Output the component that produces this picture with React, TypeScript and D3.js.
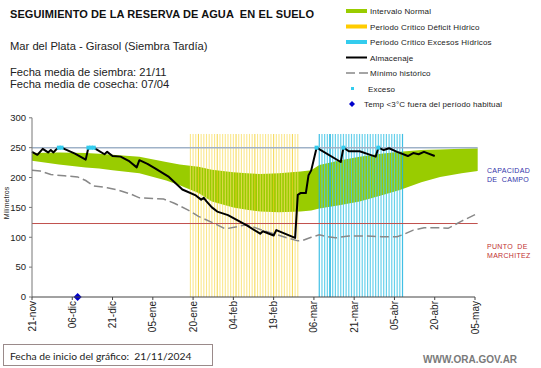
import React from "react";
import * as d3 from "d3";

// ---- data (day offset from 21-nov-2024) ----
const tickDays = [0, 15, 30, 45, 60, 75, 90, 105, 120, 135, 150, 165];
const tickLabels = ["21-nov", "06-dic", "21-dic", "05-ene", "20-ene", "04-feb", "19-feb", "06-mar", "21-mar", "05-abr", "20-abr", "05-may"];
const yTicks = [0, 50, 100, 150, 200, 250, 300];

const storageDays = [0, 2, 4, 6, 7, 8, 9, 10, 11, 12, 16, 20, 21, 23, 24, 27, 28, 30, 33, 36, 39, 40, 43, 46, 51, 56, 61, 63, 64, 65, 67, 69, 73, 80, 85, 86, 90, 91, 98, 99, 100, 102, 103, 104, 106, 115, 116, 118, 122, 126, 128, 129, 131, 133, 136, 140, 142, 144, 146, 150];
const storageValues = [243, 238, 248, 242, 246, 242, 247, 250, 250, 248, 240, 230, 250, 250, 247, 239, 243, 236, 235, 228, 217, 229, 223, 215, 201, 180, 170, 163, 166, 160, 150, 143, 137, 120, 106, 110, 103, 112, 99, 171, 174, 174, 204, 212, 250, 226, 250, 244, 244, 238, 235, 250, 246, 249, 243, 236, 241, 239, 243, 236];

const normalDays = [0, 10, 20, 25, 30, 40, 50, 55, 62, 67, 75, 80, 85, 92, 100, 104, 107, 115, 122, 130, 137, 145, 152, 160, 166];
const normalUpper = [241, 242, 241, 240, 238, 235, 226, 222, 218, 213, 209, 207, 206, 207, 210, 212, 221, 229, 235, 240, 243, 246, 247, 248, 249];
const normalLower = [228, 222, 217, 215, 212, 207, 195, 187, 174, 160, 150, 146, 143, 142, 143, 145, 148, 154, 160, 170, 179, 192, 201, 207, 211];

const minDays = [0, 3, 7, 12, 17, 20, 23, 28, 32, 37, 40, 45, 49, 53, 58, 62, 67, 72, 80, 85, 90, 95, 99, 101, 104, 107, 110, 113, 118, 125, 130, 136, 138, 142, 146, 152, 155, 160, 166];
const minValues = [212, 211, 205, 203, 201, 195, 186, 183, 179, 172, 166, 165, 164, 157, 146, 135, 125, 114, 121, 113, 106, 99, 94, 95, 100, 104, 101, 99, 102, 102, 101, 101, 104, 112, 116, 116, 115, 127, 140];

const deficitStart = 59, deficitEnd = 99;
const excessStart = 107, excessEnd = 138;
const periodTop = 273;
const excessDays = [10, 11, 21, 22, 23, 106, 116, 129];
const coldDays = [17];
const fieldCapacity = 250;
const wiltingPoint = 123;
const lastDay = 166;

const legendItems = [
  { label: "Intervalo Normal", kind: "rect", color: "#99cc00" },
  { label: "Periodo Crítico Déficit Hídrico", kind: "rect", color: "#ffcc00" },
  { label: "Periodo Crítico Excesos Hídricos", kind: "rect", color: "#33ccee" },
  { label: "Almacenaje", kind: "line", color: "#000000" },
  { label: "Mínimo histórico", kind: "dash", color: "#888888" },
  { label: "Exceso", kind: "dot", color: "#33ccee" },
  { label: "Temp <3°C fuera del período habitual", kind: "diamond", color: "#0000cc" },
];

const FONT = "'Liberation Sans', Arial, sans-serif";

export default function App() {
  const x = d3.scaleLinear().domain([0, 165]).range([32, 475]);
  const y = d3.scaleLinear().domain([0, 300]).range([297, 117.8]);

  const normal = normalDays.map((d, i) => ({ d, u: normalUpper[i], l: normalLower[i] }));
  const area = d3.area<any>().x((p) => x(p.d)).y0((p) => y(p.l)).y1((p) => y(p.u));
  const storagePath = d3.line<number>().x((d) => x(d)).y((d, i) => y(storageValues[i]))(storageDays);
  const minPath = d3.line<number>().x((d) => x(d)).y((d, i) => y(minValues[i]))(minDays);

  const deficit = d3.range(deficitStart, deficitEnd + 1);
  const excess = d3.range(excessStart, excessEnd + 1);

  return (
    <svg width={541} height={368} style={{ position: "absolute", left: 0, top: 0, background: "#fff" }} fontFamily={FONT}>
      <rect x={0} y={0} width={541} height={368} fill="#fff" />
      <text x={10} y={18} fontSize={11} fontWeight="bold" fill="#111" letterSpacing={0.1} xmlSpace="preserve">SEGUIMIENTO DE LA RESERVA DE AGUA  EN EL SUELO</text>
      <text x={10} y={50} fontSize={11.2} fill="#222">Mar del Plata - Girasol (Siembra Tardía)</text>
      <text x={10} y={76} fontSize={11.2} fill="#222">Fecha media de siembra: 21/11</text>
      <text x={10} y={88} fontSize={11.2} fill="#222">Fecha media de cosecha: 07/04</text>

      {legendItems.map((it, i) => {
        const cy = 11 + i * 15.5;
        return (
          <g key={i}>
            {it.kind === "rect" && <rect x={346} y={cy - 2} width={21} height={4} fill={it.color} />}
            {it.kind === "line" && <line x1={346} x2={367} y1={cy} y2={cy} stroke={it.color} strokeWidth={2} />}
            {it.kind === "dash" && <line x1={346} x2={368} y1={cy} y2={cy} stroke={it.color} strokeWidth={1.5} strokeDasharray="9,4" />}
            {it.kind === "dot" && <rect x={351} y={cy - 1.5} width={3} height={3} fill={it.color} />}
            {it.kind === "diamond" && <path d={`M352,${cy - 3}L355,${cy}L352,${cy + 3}L349,${cy}Z`} fill={it.color} />}
            <text x={it.kind === "dot" ? 368 : it.kind === "diamond" ? 364 : 370} y={cy + 3} fontSize={8} fill="#222" letterSpacing={0.15}>{it.label}</text>
          </g>
        );
      })}

      {/* normal interval */}
      <path d={area(normal) || ""} fill="#99cc00" />

      {/* critical periods */}
      {deficit.map((d, i) => (
        <line key={"y" + d} x1={x(d)} x2={x(d)} y1={y(0)} y2={y(periodTop)} stroke={i % 7 === 3 ? "#f2cc20" : "#f8df66"} strokeWidth={1.1} strokeOpacity={0.75} />
      ))}
      {excess.map((d, i) => (
        <line key={"c" + d} x1={x(d)} x2={x(d)} y1={y(0)} y2={y(periodTop)} stroke={i === 0 || i === 4 || d === excessEnd ? "#1fb4e0" : "#4cc8e8"} strokeWidth={i === 4 ? 1.8 : 1.2} strokeOpacity={0.85} />
      ))}

      {/* reference lines */}
      <line x1={x(0)} x2={x(lastDay)} y1={y(fieldCapacity)} y2={y(fieldCapacity)} stroke="#9fb2c8" strokeWidth={1.5} />
      <line x1={x(0)} x2={x(lastDay)} y1={y(wiltingPoint)} y2={y(wiltingPoint)} stroke="#c0504d" strokeWidth={1} />

      <path d={minPath || ""} fill="none" stroke="#888" strokeWidth={1.5} strokeDasharray="9,4" />
      <path d={storagePath || ""} fill="none" stroke="#000" strokeWidth={2} strokeLinejoin="round" />

      {excessDays.map((d) => (
        <rect key={"e" + d} x={x(d) - 2} y={y(fieldCapacity) - 2} width={4} height={4} fill="#33ccee" />
      ))}
      {coldDays.map((d) => (
        <path key={"t" + d} d={`M${x(d)},${y(0) - 4}L${x(d) + 4},${y(0)}L${x(d)},${y(0) + 4}L${x(d) - 4},${y(0)}Z`} fill="#0000cc" />
      ))}

      {/* axes */}
      <line x1={32} x2={32} y1={y(300)} y2={y(0)} stroke="#777" strokeWidth={1} />
      {yTicks.map((t) => (
        <g key={"yt" + t}>
          <line x1={29} x2={32} y1={y(t)} y2={y(t)} stroke="#777" />
          <text x={26} y={y(t)} dy="0.35em" textAnchor="end" fontSize={9.5} fill="#222">{t}</text>
        </g>
      ))}
      <text transform={`translate(9,203) rotate(-90)`} textAnchor="middle" fontSize={7} fill="#222">Milímetros</text>

      <line x1={32} x2={475} y1={y(0)} y2={y(0)} stroke="#444" strokeWidth={1} />
      {tickDays.map((d, i) => (
        <g key={"xt" + d}>
          <line x1={x(d)} x2={x(d)} y1={y(0)} y2={y(0) + 3} stroke="#444" />
          <text transform={`translate(${x(d)},${y(0) + 4}) rotate(-90)`} dy="0.35em" textAnchor="end" fontSize={10} fill="#222">{tickLabels[i]}</text>
        </g>
      ))}

      <text x={487} y={172.7} fontSize={7} fill="#3333aa" letterSpacing={0.3}>CAPACIDAD</text>
      <text x={487} y={181.5} fontSize={7} fill="#3333aa" letterSpacing={0.3} xmlSpace="preserve">DE  CAMPO</text>
      <text x={487} y={249} fontSize={7} fill="#c03030" letterSpacing={0.3} xmlSpace="preserve">PUNTO  DE</text>
      <text x={487} y={257.5} fontSize={7} fill="#c03030" letterSpacing={0.3}>MARCHITEZ</text>

      <rect x={3.5} y={344.5} width={209} height={21} fill="none" stroke="#9a8a8a" strokeWidth={1} />
      <text x={10} y={360} fontSize={10.3} fill="#222" fontFamily="Lato, 'Open Sans', sans-serif" xmlSpace="preserve">Fecha de inicio del gráfico:  21/11/2024</text>
      <text x={423} y={363} fontSize={10} fontWeight="bold" fill="#7a7a7a">WWW.ORA.GOV.AR</text>
    </svg>
  );
}
